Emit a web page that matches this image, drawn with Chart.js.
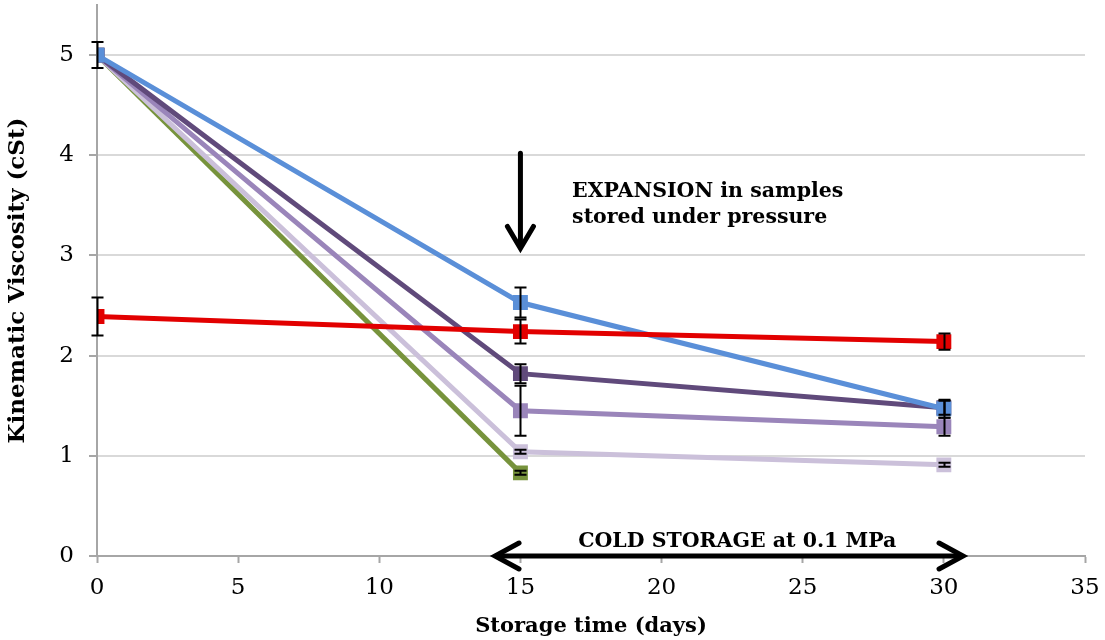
<!DOCTYPE html>
<html>
<head>
<meta charset="utf-8">
<script src="https://cdn.jsdelivr.net/npm/chart.js@4"></script>
<style>
  body { margin: 0; background: #fff; }
  #wrap { width: 1105px; height: 640px; }
</style>
</head>
<body>
<div id="wrap"><canvas id="chart" width="1105" height="640"></canvas></div>
<script>
const days = [0, 15, 30];

// kinematic viscosity (cSt) per sample
const redValues = [2.39, 2.24, 2.14];
const blueValues = [5.0, 2.53, 1.47];
const darkPurpleValues = [5.0, 1.82, 1.48];
const midPurpleValues = [5.0, 1.45, 1.29];
const lightPurpleValues = [5.0, 1.04, 0.91];
const greenValues = [5.0, 0.83];

// error bar half widths (null = no bar)
const redErr = [0.19, 0.12, 0.08];
const blueErr = [0.13, 0.15, 0.09];
const darkPurpleErr = [null, 0.095, 0.07];
const midPurpleErr = [null, 0.25, 0.09];
const lightPurpleErr = [null, 0.02, 0.02];
const greenErr = [null, 0.02];

const xTicks = [0, 5, 10, 15, 20, 25, 30, 35];
const yTicks = [0, 1, 2, 3, 4, 5];

const serif = '"DejaVu Serif", "Liberation Serif", serif';
const axisGray = '#a6a6a6';

function toPoints(values) {
    return values.map((v, i) => ({ x: days[i], y: v }));
}

function makeSet(label, values, errs, color) {
    return {
        label: label,
        data: toPoints(values),
        errors: errs,
        borderColor: color,
        backgroundColor: color,
        borderWidth: 5,
        pointStyle: 'rect',
        pointRadius: 7,
        pointHoverRadius: 7,
        tension: 0
    };
}

const errorBars = {
    id: 'errorBars',
    afterDatasetsDraw(chart) {
        const ctx = chart.ctx;
        const xs = chart.scales.x;
        const ys = chart.scales.y;
        ctx.save();
        ctx.strokeStyle = '#000';
        ctx.lineWidth = 2;
        chart.data.datasets.forEach(ds => {
            ds.data.forEach((p, i) => {
                const e = ds.errors[i];
                if (e == null) return;
                const px = Math.round(xs.getPixelForValue(p.x)) + 0.5;
                const top = ys.getPixelForValue(p.y + e);
                const bot = ys.getPixelForValue(p.y - e);
                ctx.beginPath();
                ctx.moveTo(px, top);
                ctx.lineTo(px, bot);
                ctx.moveTo(px - 6, top);
                ctx.lineTo(px + 6, top);
                ctx.moveTo(px - 6, bot);
                ctx.lineTo(px + 6, bot);
                ctx.stroke();
            });
        });
        ctx.restore();
    }
};

function chevron(ctx, tipX, tipY, dx, dy, len, spread) {
    // open arrow head pointing in direction (dx, dy)
    const bx = tipX - dx * len;
    const by = tipY - dy * len;
    ctx.beginPath();
    ctx.moveTo(bx - dy * spread, by + dx * spread);
    ctx.lineTo(tipX, tipY);
    ctx.lineTo(bx + dy * spread, by - dx * spread);
    ctx.stroke();
}

const notes = {
    id: 'notes',
    afterDraw(chart) {
        const ctx = chart.ctx;
        const xs = chart.scales.x;
        const ys = chart.scales.y;
        ctx.save();
        ctx.strokeStyle = '#000';
        ctx.fillStyle = '#000';
        ctx.lineWidth = 5;
        ctx.lineCap = 'round';
        ctx.lineJoin = 'miter';

        // expansion arrow
        const ax = xs.getPixelForValue(15);
        const aTop = ys.getPixelForValue(4.02);
        const aBot = ys.getPixelForValue(3.07);
        ctx.beginPath();
        ctx.moveTo(ax, aTop);
        ctx.lineTo(ax, aBot - 2);
        ctx.stroke();
        chevron(ctx, ax, aBot, 0, 1, 22, 13);

        // cold storage double arrow
        const l = xs.getPixelForValue(14.1);
        const r = xs.getPixelForValue(30.68);
        const y0 = ys.getPixelForValue(0);
        ctx.beginPath();
        ctx.moveTo(l + 2, y0);
        ctx.lineTo(r - 2, y0);
        ctx.stroke();
        chevron(ctx, l, y0, -1, 0, 24, 13);
        chevron(ctx, r, y0, 1, 0, 24, 13);

        ctx.font = 'bold 20.5px ' + serif;
        ctx.textBaseline = 'alphabetic';
        ctx.textAlign = 'left';
        const tx = xs.getPixelForValue(16.83);
        ctx.fillText('EXPANSION in samples', tx, ys.getPixelForValue(3.585));
        ctx.fillText('stored under pressure', tx, ys.getPixelForValue(3.32));

        ctx.textAlign = 'center';
        ctx.fillText('COLD STORAGE at 0.1 MPa', xs.getPixelForValue(22.68), ys.getPixelForValue(0.093));
        ctx.restore();
    }
};

new Chart(document.getElementById('chart'), {
    type: 'line',
    data: {
        datasets: [
            makeSet('Control', redValues, redErr, '#e20000'),
            makeSet('Sample A', blueValues, blueErr, '#5a8fd8'),
            makeSet('Sample B', darkPurpleValues, darkPurpleErr, '#604a7b'),
            makeSet('Sample C', midPurpleValues, midPurpleErr, '#9a85ba'),
            makeSet('Sample D', lightPurpleValues, lightPurpleErr, '#cbc0da'),
            makeSet('Sample E', greenValues, greenErr, '#77933c')
        ]
    },
    options: {
        responsive: false,
        animation: false,
        layout: { autoPadding: false, padding: { left: 0, top: 5, right: 20, bottom: 0 } },
        plugins: {
            legend: { display: false },
            tooltip: { enabled: false }
        },
        scales: {
            x: {
                type: 'linear',
                min: 0,
                max: 35,
                afterBuildTicks: s => { s.ticks = xTicks.map(v => ({ value: v })); },
                afterFit: s => { s.height = 84; s.paddingLeft = 0; s.paddingRight = 0; },
                ticks: { color: '#000', padding: 11, font: { family: serif, size: 23 } },
                grid: { drawOnChartArea: false, drawTicks: true, tickLength: 7, tickColor: axisGray, tickWidth: 2 },
                border: { color: axisGray, width: 2 },
                title: {
                    display: true,
                    text: 'Storage time (days)',
                    color: '#000',
                    font: { family: serif, size: 21, weight: 'bold' },
                    padding: { top: 0, bottom: 1 }
                }
            },
            y: {
                min: 0,
                max: 5.5,
                afterBuildTicks: s => { s.ticks = yTicks.map(v => ({ value: v })); },
                afterFit: s => { s.width = 97; s.paddingTop = 0; s.paddingBottom = 0; },
                ticks: { color: '#000', padding: 15, font: { family: serif, size: 23 } },
                grid: { color: '#d9d9d9', lineWidth: 2, tickLength: 8, tickColor: axisGray, tickWidth: 2 },
                border: { color: axisGray, width: 2 },
                title: {
                    display: true,
                    text: 'Kinematic Viscosity (cSt)',
                    color: '#000',
                    font: { family: serif, size: 23, weight: 'bold' },
                    padding: { top: 4, bottom: 0 }
                }
            }
        }
    },
    plugins: [errorBars, notes]
});
</script>
</body>
</html>
